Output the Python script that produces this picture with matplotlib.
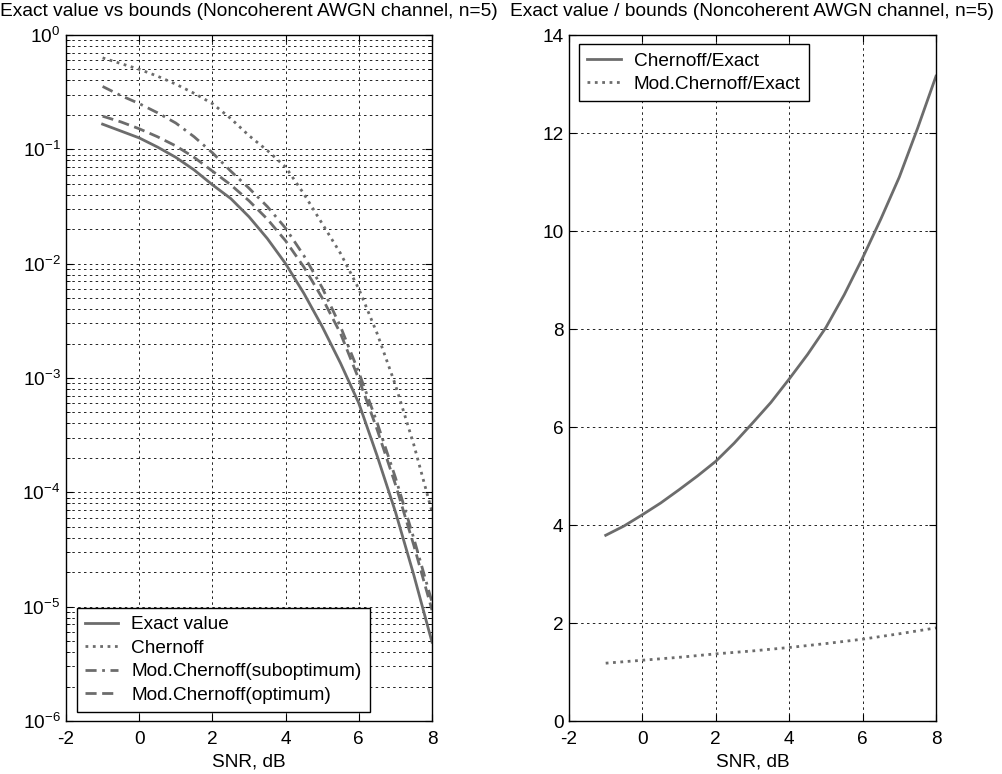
import numpy as np
import matplotlib
matplotlib.use("Agg")
import matplotlib.pyplot as plt
from matplotlib.ticker import LogLocator, NullFormatter

plt.rcParams['font.family'] = ['Liberation Sans', 'DejaVu Sans']
plt.rcParams['mathtext.fontset'] = 'custom'
plt.rcParams['mathtext.rm'] = 'Liberation Sans'
plt.rcParams['mathtext.it'] = 'Liberation Sans'
plt.rcParams['axes.unicode_minus'] = False

# SNR grid (dB)
snr = [-1, -0.5, 0, 0.5, 1, 1.5, 2, 2.5, 3, 3.5, 4, 4.5, 5, 5.5, 6, 6.5, 7, 7.5, 8]

# log10 of error probability
log_exact = [-0.78, -0.84, -0.90, -0.98, -1.07, -1.18, -1.31, -1.43, -1.59, -1.78,
             -2.00, -2.26, -2.55, -2.87, -3.22, -3.68, -4.17, -4.72, -5.31]
log_chernoff = [-0.20, -0.25, -0.30, -0.36, -0.43, -0.51, -0.60, -0.73, -0.88, -1.01,
                -1.155, -1.39, -1.65, -1.91, -2.22, -2.61, -3.06, -3.58, -4.17]
log_mod_subopt = [-0.45, -0.53, -0.60, -0.68, -0.77, -0.89, -1.03, -1.19, -1.34, -1.50,
                  -1.69, -1.93, -2.21, -2.55, -2.95, -3.39, -3.87, -4.40, -4.96]
log_mod_opt = [-0.71, -0.76, -0.82, -0.89, -0.97, -1.07, -1.19, -1.31, -1.45, -1.61,
               -1.80, -2.03, -2.30, -2.61, -3.01, -3.45, -3.93, -4.46, -5.03]

# bound / exact ratios
ratio_chernoff = [3.79, 3.98, 4.21, 4.45, 4.72, 5.00, 5.30, 5.67, 6.08, 6.50,
                  6.98, 7.48, 8.03, 8.70, 9.45, 10.25, 11.10, 12.10, 13.16]
snr_mod = [-1, 0, 1, 2, 3, 4, 5, 6, 7, 8]
ratio_mod = [1.18, 1.24, 1.30, 1.37, 1.43, 1.50, 1.58, 1.67, 1.78, 1.90]

line_color = '#6c6c6c'
lw = 2.0
grid_kw = dict(color='black', linestyle=(0, (3, 4)), linewidth=0.6)
fs = 13.7
title_fs = 13.8

fig = plt.figure(figsize=(10.03, 7.74), dpi=100)
W, H = 1003, 774
ax1 = fig.add_axes([66 / W, (H - 721) / H, 366 / W, 686 / H])
ax2 = fig.add_axes([569 / W, (H - 721) / H, 367 / W, 686 / H])

leg_kw = dict(borderaxespad=0, fontsize=fs, fancybox=False, framealpha=1, edgecolor='black',
              handlelength=1.75, handletextpad=0.7, labelspacing=0.32, borderpad=0.42)

# left: probabilities on log scale
ax1.semilogy(snr, 10.0 ** np.array(log_exact), '-', color=line_color, lw=lw, label='Exact value')
ax1.semilogy(snr, 10.0 ** np.array(log_chernoff), ':', color=line_color, lw=lw, label='Chernoff')
ax1.semilogy(snr, 10.0 ** np.array(log_mod_subopt), linestyle=(0, (4, 2, 1, 2)), color=line_color, lw=lw,
             label='Mod.Chernoff(suboptimum)')
ax1.semilogy(snr, 10.0 ** np.array(log_mod_opt), linestyle=(0, (4, 2)), color=line_color, lw=lw,
             label='Mod.Chernoff(optimum)')
ax1.set_xlim(-2, 8)
ax1.set_ylim(1e-6, 1)
ax1.set_xticks([-2, 0, 2, 4, 6, 8])
ax1.yaxis.set_major_locator(LogLocator(base=10, numticks=10))
ax1.yaxis.set_minor_locator(LogLocator(base=10, subs=np.arange(2, 10), numticks=20))
ax1.yaxis.set_minor_formatter(NullFormatter())
ax1.grid(True, which='major', **grid_kw)
ax1.grid(True, which='minor', axis='y', **grid_kw)
ax1.set_xlabel('SNR, dB', fontsize=fs, labelpad=4)
ax1.set_title('Exact value vs bounds (Noncoherent AWGN channel, n=5)', fontsize=title_fs, pad=14)
leg1 = ax1.legend(loc='lower left', bbox_to_anchor=(10.7 / 366, 9.3 / 686), **leg_kw)
leg1.get_frame().set_linewidth(1.0)

# right: ratios on linear scale
ax2.plot(snr, ratio_chernoff, '-', color=line_color, lw=lw, label='Chernoff/Exact')
ax2.plot(snr_mod, ratio_mod, ':', color=line_color, lw=lw, label='Mod.Chernoff/Exact')
ax2.set_xlim(-2, 8)
ax2.set_ylim(0, 14)
ax2.set_xticks([-2, 0, 2, 4, 6, 8])
ax2.set_yticks(range(0, 15, 2))
ax2.grid(True, which='major', **grid_kw)
ax2.set_xlabel('SNR, dB', fontsize=fs, labelpad=4)
ax2.set_title('Exact value / bounds (Noncoherent AWGN channel, n=5)', fontsize=title_fs, pad=14)
leg2 = ax2.legend(loc='upper left', bbox_to_anchor=(10.3 / 367, 1 - 9.3 / 686), **leg_kw)
leg2.get_frame().set_linewidth(1.0)

for ax in (ax1, ax2):
    ax.set_axisbelow(True)
    for sp in ax.spines.values():
        sp.set_linewidth(1.0)
    ax.tick_params(which='both', direction='in', top=True, right=True, labelsize=fs)
    ax.tick_params(axis='x', pad=7)
    ax.tick_params(axis='y', pad=4)
    ax.tick_params(which='major', length=5)
    ax.tick_params(which='minor', length=3)

fig.savefig('out.png', dpi=100)
